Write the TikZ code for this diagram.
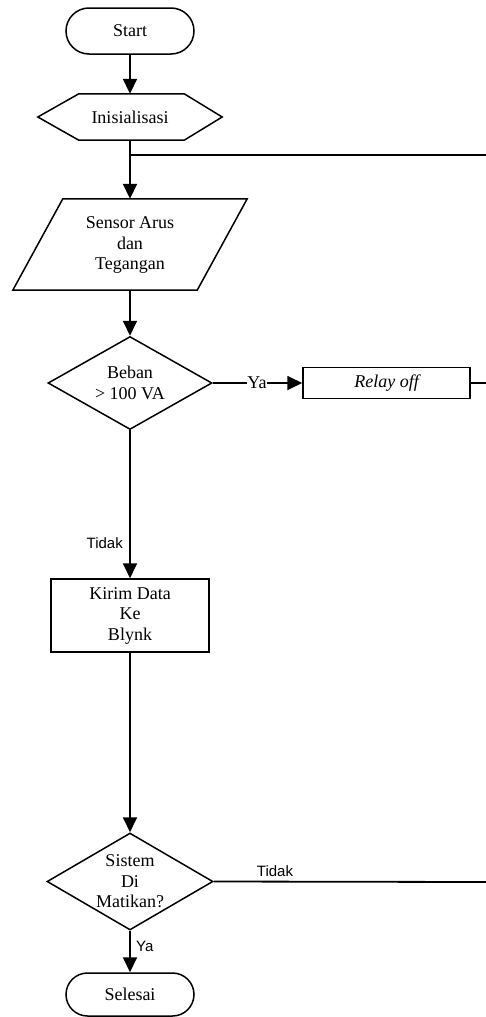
\documentclass[tikz,border=0pt]{standalone}
\usepackage{fontspec}
\setmainfont{Liberation Serif}
\newfontfamily\labelfont{Liberation Sans}
\usetikzlibrary{shapes.geometric,shapes.misc,arrows.meta}
\begin{document}
\begin{tikzpicture}[x=1pt,y=-1pt,
  shp/.style={draw, line width=1.5pt},
  txt/.style={font=\fontsize{18}{20.5}\selectfont, align=center, inner sep=0pt},
  lbl/.style={font=\labelfont\fontsize{15}{16}\selectfont, inner sep=0pt},
  flow/.style={line width=1.8pt, -{Triangle[length=15pt,width=14pt]}},
  plain/.style={line width=1.8pt}]
\useasboundingbox (0,0) rectangle (486,1017);

% Start
\node[shp, rounded rectangle, minimum width=128pt, minimum height=46pt, txt] (start) at (130,31) {Start};

% Inisialisasi (hexagon)
\node[minimum width=184pt, minimum height=46pt, txt] (init) at (130,117) {Inisialisasi};
\draw[shp] (init.west) -- ([xshift=41pt]init.north west) -- ([xshift=-38pt]init.north east)
  -- (init.east) -- ([xshift=-38pt]init.south east) -- ([xshift=41pt]init.south west) -- cycle;

% Sensor (parallelogram)
\node[minimum width=234pt, minimum height=91pt, inner sep=0pt] (sensor) at (130,244.5) {};
\draw[shp] ([xshift=50pt]sensor.north west) -- (sensor.north east)
  -- ([xshift=-50pt]sensor.south east) -- (sensor.south west) -- cycle;
\node[txt] (sensortxt) at (130,245) {Sensor Arus\\dan\\Tegangan};

% Beban decision
\node[shp, diamond, minimum width=164pt, minimum height=93pt, inner sep=0pt] (beban) at (130,383) {};
\node[txt] (bebantxt) at (130,383) {Beban\\> 100 VA};

% Relay off
\node[shp, rectangle, minimum width=167pt, minimum height=31pt, txt] (relay) at (386.5,383) {\itshape Relay off};
\node[txt] (ya1) at (257,383) {Ya};

% Kirim data
\node[shp, rectangle, minimum width=158pt, minimum height=73pt, txt] (kirim) at (130,615.5) {Kirim Data\\Ke\\Blynk};

% Sistem decision
\node[shp, diamond, minimum width=166pt, minimum height=97pt, inner sep=0pt] (sistem) at (130,881.5) {};
\node[txt] (sistemtxt) at (130,881.5) {Sistem\\Di\\Matikan?};

% Selesai
\node[shp, rounded rectangle, minimum width=128pt, minimum height=43pt, txt] (selesai) at (130,994.5) {Selesai};

% connectors
\coordinate (j1) at (130,155);
\coordinate (r1) at (486,155);
\coordinate (r2) at (486,383);
\coordinate (r3) at (486,882);

\draw[flow] (start) -- (init);
\draw[flow] (init) -- (sensor);
\draw[plain] (j1) -- (r1);
\draw[flow] (sensor) -- (beban);
\draw[plain] (beban.east) -- (ya1.west);
\draw[flow] (ya1.east) -- (relay.west);
\draw[plain] (relay.east) -- (r2);
\draw[flow] (beban) -- (kirim);
\node[lbl, anchor=east] (t1) at (123,543) {Tidak};
\draw[flow] (kirim) -- (sistem);
\draw[plain] (sistem.east) -- (r3);
\node[lbl] (t2) at (275,871) {Tidak};
\draw[flow] (sistem) -- (selesai);
\node[lbl, anchor=west] (ya2) at (136,946) {Ya};
\end{tikzpicture}
\end{document}
